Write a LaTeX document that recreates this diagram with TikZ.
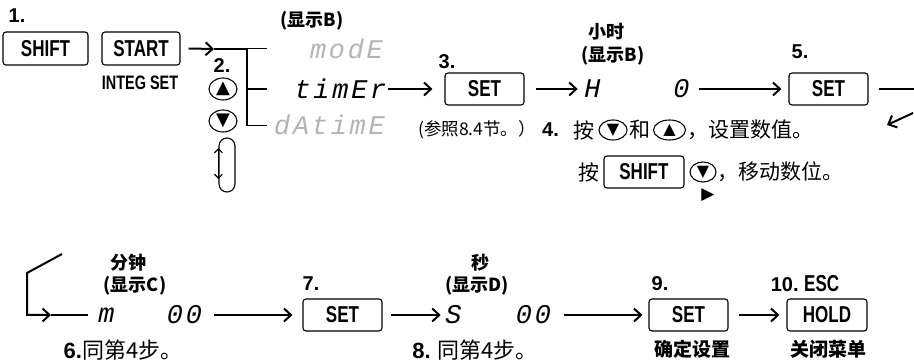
\documentclass[tikz,border=0pt]{standalone}
\usepackage{fontspec}
\setmainfont{Liberation Sans}
\newfontfamily\cjk{Noto Sans CJK SC}
\newfontfamily\keyfont{Liberation Sans}[FakeStretch=0.74]
\newfontfamily\segfont{Liberation Mono}[FakeSlant=0.2,LetterSpace=10]
\newfontfamily\symfont{DejaVu Sans}
\usetikzlibrary{arrows.meta,positioning,shapes.geometric}
\definecolor{SegGray}{HTML}{B4B4B4}
\newcommand{\fsz}[1]{\fontsize{#1}{#1}\selectfont}

\begin{document}
\begin{tikzpicture}[x=1pt, y=-1pt,
  keybox/.style={draw, rounded corners=3pt, line width=1.1pt, minimum width=79pt, minimum height=32pt, inner sep=0pt, font=\keyfont\bfseries\fsz{23}},
  btn/.style={draw, ellipse, line width=1.1pt, minimum width=28pt, minimum height=22pt, inner sep=0pt, font=\symfont\fsz{18}},
  smallbtn/.style={btn, minimum width=28pt, minimum height=20pt, font=\symfont\fsz{16}},
  seg/.style={inner sep=0pt, font=\segfont\fsz{27}},
  num/.style={inner sep=0pt, font=\bfseries\fsz{20}},
  lbl/.style={inner sep=0pt, font=\cjk\bfseries\fsz{18}},
  note/.style={inner sep=0pt, font=\cjk\fsz{21}},
  arrow/.style={-{Straight Barb[length=7pt,width=13pt]}, line width=2pt},
  stem/.style={line width=2pt},
  twig/.style={line width=1pt}
]
\useasboundingbox (0,0) rectangle (914,363);
% step 1
\node[num] (s1) at (17,16) {1.};
\node[keybox, minimum width=85pt, minimum height=33pt] (shift) at (45.5,48.5) {SHIFT};
\node[keybox, minimum width=78pt, minimum height=33pt] (start) at (141,48.5) {START};
\node[inner sep=0pt, font=\keyfont\bfseries\fsz{19.5}] (integ) at (140,83) {INTEG SET};
% step 2: menu choice
\node[num] (s2) at (222,66) {2.};
\node[btn] (up) at (223,89) {▲};
\node[btn] (down) at (223,121) {▼};
\node[draw, line width=1.1pt, rounded corners=8pt, minimum width=16pt, minimum height=54pt] (loop) at (227,165) {};
\draw[line width=1.1pt, {Straight Barb[length=4pt,width=8pt]}-{Straight Barb[length=4pt,width=8pt]}] ([yshift=17pt]loop.west) -- ([yshift=-14pt]loop.west);
\coordinate (forktip) at (214,49);
\coordinate (fork) at (247,49);
\coordinate (forkmid) at (247,89);
\coordinate (forkbot) at (247,126);
\draw[arrow] ([xshift=8pt]start.east) -- (forktip);
\draw[stem] (forktip) -- (fork) -- (forkbot);
\draw[twig] (fork) -- ++(20,0);
\draw[stem] (forkmid) -- ++(20,0);
\draw[twig] (forkbot) -- ++(20,0);
\node[lbl] (dispB) at (312,21) {(显示B)};
\node[seg, text=SegGray] (mode) at (345,49) {modE};
\node[seg] (timer) at (339,89) {timEr};
\node[seg, text=SegGray] (datime) at (328,125) {dAtimE};
% step 3
\node[num] (s3) at (447,62) {3.};
\node[keybox] (set3) at (484.5,89) {SET};
\node[note, font=\cjk\fsz{17.5}] (ref) at (477,130) {(参照8.4节。）};
\draw[arrow, shorten <=3pt, shorten >=12pt] (timer) -- (set3);
% hours
\node[lbl] (hr) at (606,32) {小时};
\node[lbl] (dispB2) at (613,56) {(显示B)};
\node[seg] (hourH) at (591,89) {H};
\node[seg] (hourval) at (680,89) {0};
\draw[arrow, shorten <=11pt, shorten >=5pt] (set3) -- (hourH);
% step 5
\node[num] (s5) at (800,52) {5.};
\node[keybox] (set5) at (828.5,89) {SET};
\draw[arrow, shorten <=11pt, shorten >=7pt] (hourval) -- (set5);
\coordinate (wrapR) at (914,89);
\coordinate (backA) at (913,113);
\coordinate (backB) at (887,125);
\draw[stem] ([xshift=10pt]set5.east) -- (wrapR);
\draw[arrow] (backA) -- (backB);
% step 4
\node[num, anchor=west] (s4) at (542,130) {4.};
\node[note, right=14pt of s4] (press1) {按};
\node[smallbtn, right=4pt of press1] (down1) {▼};
\node[note, right=2pt of down1] (and1) {和};
\node[smallbtn, minimum width=32pt, right=2pt of and1] (up1) {▲};
\node[note, right=1pt of up1] (setval) {，设置数值。};
\node[note, anchor=west] (press2) at (578,172) {按};
\node[keybox, minimum width=80pt, right=4pt of press2] (shift2) {SHIFT};
\node[smallbtn, minimum width=26pt, right=5pt of shift2] (down2) {▼};
\node[note, right=1pt of down2] (movedig) {，移动数位。};
\node[inner sep=0pt, font=\symfont\fsz{17}] (cursor) at (708,195) {▶};
% minutes
\coordinate (wrapL) at (62,254);
\coordinate (bendA) at (27,273);
\coordinate (bendB) at (27,315);
\coordinate (bendtip) at (51,315);
\node[lbl] (minlbl) at (128,263) {分钟};
\node[lbl] (dispC) at (135,286) {(显示C)};
\node[seg] (minM) at (105,315) {m};
\node[seg] (minval) at (183,315) {00};
\draw[arrow] (wrapL) -- (bendA) -- (bendB) -- (bendtip);
\draw[stem, shorten >=9pt] (bendtip) -- (minM);
\node[note, font=\cjk\fsz{22}] (s6) at (123,350) {{\rmfamily\bfseries 6.}同第4步。};
% step 7
\node[num] (s7) at (311,284) {7.};
\node[keybox] (set7) at (342.5,315) {SET};
\draw[arrow, shorten <=13pt, shorten >=10pt] (minval) -- (set7);
% seconds
\node[lbl] (seclbl) at (480,263) {秒};
\node[lbl] (dispD) at (477,286) {(显示D)};
\node[seg] (secS) at (452,315) {S};
\node[seg] (secval) at (532,315) {00};
\draw[arrow, shorten <=8pt, shorten >=3pt] (set7) -- (secS);
\node[note, font=\cjk\fsz{22}] (s8) at (475,350) {{\rmfamily\bfseries 8.} 同第4步。};
% step 9 and 10
\node[num] (s9) at (660,284) {9.};
\node[keybox] (set9) at (688.5,315) {SET};
\node[lbl, font=\cjk\bfseries\fsz{19}] (confirm) at (692,349) {确定设置};
\draw[arrow, shorten <=14pt, shorten >=6pt] (secval) -- (set9);
\node[num] (s10) at (805,284) {10.\ {\keyfont\fsz{23}ESC}};
\node[keybox, minimum width=80pt] (hold) at (827,315) {HOLD};
\node[lbl, font=\cjk\bfseries\fsz{19}] (close) at (828,349) {关闭菜单};
\draw[arrow, shorten <=10pt, shorten >=7pt] (set9) -- (hold);
\end{tikzpicture}
\end{document}
